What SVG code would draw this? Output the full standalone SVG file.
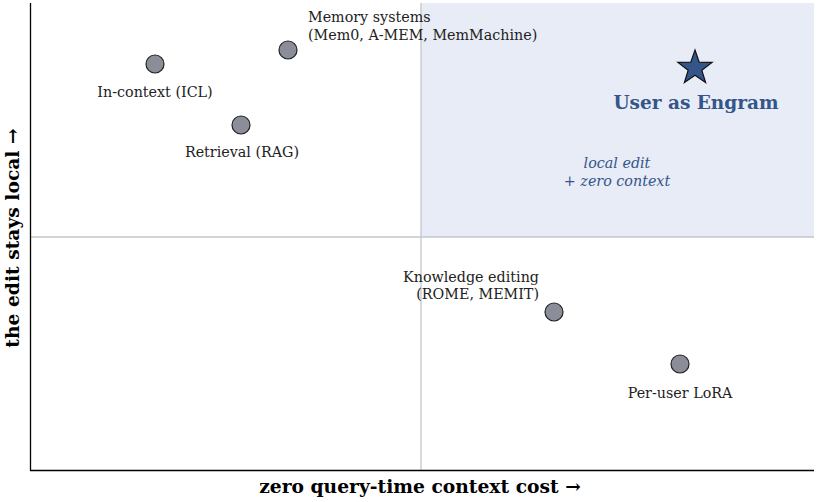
<svg xmlns="http://www.w3.org/2000/svg" width="817" height="502" viewBox="0 0 817 502">
<style>
.lbl{font-family:"DejaVu Serif",serif;font-size:14.3px;fill:#222}
.ax{font-family:"DejaVu Serif",serif;font-size:18.7px;font-weight:bold;fill:#000}
.pt{fill:#8b8e99;stroke:#222;stroke-width:1.2}
.grid{stroke:#c4c6cc;stroke-width:1.3}
</style>
<rect width="817" height="502" fill="#fff"/>
<rect x="421" y="3" width="393" height="234" fill="#e8ecf6"/>
<g id="guides">
<line class="grid" x1="421" y1="3" x2="421" y2="470"/>
<line class="grid" x1="30" y1="237" x2="814" y2="237"/>
</g>
<g id="axes" stroke="#000" stroke-width="1.3">
<line x1="30.5" y1="3" x2="30.5" y2="470.5"/>
<line x1="30" y1="470.5" x2="814" y2="470.5"/>
</g>
<g id="icl"><circle class="pt" cx="155" cy="64" r="9"/><text class="lbl" x="155" y="97" text-anchor="middle">In-context (ICL)</text></g>
<g id="memory"><circle class="pt" cx="288" cy="50" r="9"/><text class="lbl" x="308" y="22">Memory systems</text><text class="lbl" x="308" y="40">(Mem0, A-MEM, MemMachine)</text></g>
<g id="rag"><circle class="pt" cx="241" cy="125" r="9"/><text class="lbl" x="242" y="157" text-anchor="middle">Retrieval (RAG)</text></g>
<g id="ke"><circle class="pt" cx="554" cy="312" r="9"/><text class="lbl" x="539" y="282" text-anchor="end">Knowledge editing</text><text class="lbl" x="539" y="299" text-anchor="end">(ROME, MEMIT)</text></g>
<g id="lora"><circle class="pt" cx="680" cy="364" r="9"/><text class="lbl" x="680" y="398" text-anchor="middle">Per-user LoRA</text></g>
<g id="engram">
<polygon points="695.0,50.0 699.2,62.2 712.1,62.4 701.8,70.2 705.6,82.6 695.0,75.2 684.4,82.6 688.2,70.2 677.9,62.4 690.8,62.2" fill="#34558a" stroke="#111" stroke-width="1.2" stroke-linejoin="miter"/>
<text x="696" y="109" text-anchor="middle" font-family="DejaVu Serif,serif" font-size="18.5" font-weight="bold" fill="#34558a">User as Engram</text>
</g>
<g id="quadrant-note" font-family="DejaVu Serif,serif" font-size="14.3" font-style="italic" fill="#34558a" text-anchor="middle">
<text x="617" y="168">local edit</text>
<text x="617" y="186">+ zero context</text>
</g>
<text class="ax" x="420" y="493" text-anchor="middle">zero query-time context cost  →</text>
<text class="ax" transform="translate(19,238) rotate(-90)" text-anchor="middle">the edit stays local  →</text>
</svg>
